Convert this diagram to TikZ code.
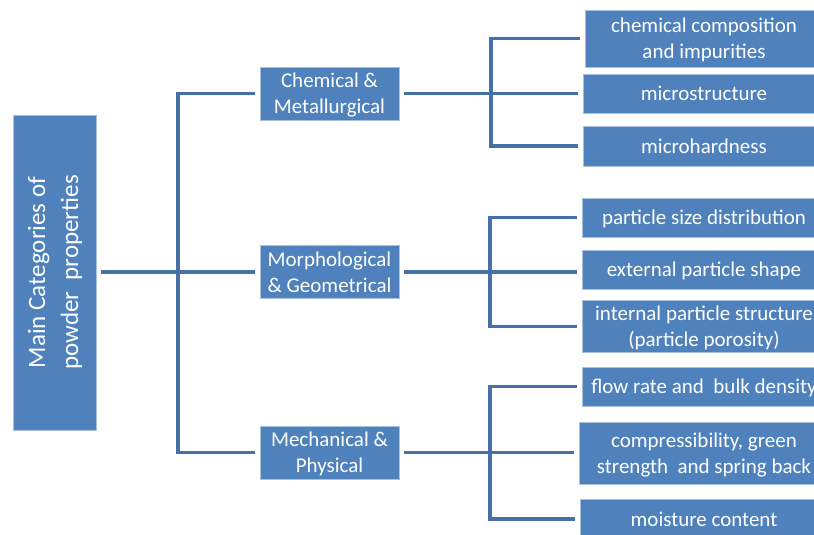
\documentclass[tikz,border=0pt]{standalone}
\usepackage{fontspec}
\setmainfont{Carlito}
\definecolor{boxfill}{HTML}{4F81BD}
\definecolor{boxedge}{HTML}{A9C0DF}
\definecolor{linec}{HTML}{4770A6}
% centred lines of box text, set a little below the box centre
\newcommand{\boxtext}[1]{\raisebox{-2pt}[\height][\depth]{\begin{tabular}{@{}c@{}}#1\end{tabular}}}
\begin{document}
\begin{tikzpicture}[x=1pt,y=-1pt,
  box/.style={rectangle, fill=boxfill, draw=boxedge, line width=0.7pt,
    text=white, inner sep=0pt,
    font=\fontsize{21}{26}\selectfont},
  leaf/.style={box},
  conn/.style={draw=linec, line width=3.6pt, shorten <=5pt, shorten >=5pt}]
\useasboundingbox (0,0) rectangle (814,535);

% root category
\node[box, minimum width=83, minimum height=315,
      font=\fontsize{25}{33}\selectfont] (root) at (55,272.5)
  {\rotatebox{90}{\begin{tabular}{@{}c@{}}Main Categories of\\powder\ \ properties\end{tabular}}};

% main categories
\node[box, minimum width=139, minimum height=53] (m1) at (329.5,93.5) {\boxtext{Chemical \&\\Metallurgical}};
\node[box, minimum width=139, minimum height=53] (m2) at (329.5,272) {\boxtext{Morphological\\\& Geometrical}};
\node[box, minimum width=139, minimum height=53] (m3) at (329.5,452.5) {\boxtext{Mechanical \&\\Physical}};

% properties
\node[leaf, minimum width=238, minimum height=57] (l1) at (704,38.5) {\boxtext{chemical composition\\and impurities}};
\node[leaf, minimum width=242, minimum height=39] (l2) at (704,93.5) {\boxtext{microstructure}};
\node[leaf, minimum width=242, minimum height=40] (l3) at (704,146) {\boxtext{microhardness}};
\node[leaf, minimum width=244, minimum height=39] (l4) at (704,217.5) {\boxtext{particle size distribution}};
\node[leaf, minimum width=244, minimum height=39] (l5) at (704,269.5) {\boxtext{external particle shape}};
\node[leaf, minimum width=244, minimum height=51] (l6) at (704,326.5) {\boxtext{internal particle structure\\(particle porosity)}};
\node[leaf, minimum width=244, minimum height=39] (l7) at (704,386.5) {\boxtext{flow rate and\ \ bulk density}};
\node[leaf, minimum width=250, minimum height=62] (l8) at (704,453) {\boxtext{compressibility, green\\strength\ \ and spring back}};
\node[leaf, minimum width=248, minimum height=40] (l9) at (704,519) {\boxtext{moisture content}};

% bus lines
\coordinate (trunk) at (178,0);
\coordinate (g1) at (491,0);
\coordinate (g2) at (490,0);
\coordinate (g3) at (490,0);

% root to main categories
\draw[conn, shorten <=4pt] (root.east |- m2.west) -- (m2.west);
\draw[conn] (m1.west) -| (trunk |- m3.west) -- (m3.west);

% main categories to properties
\draw[conn] (m1.east) -- (m1.east -| l2.west);
\draw[conn] (l1.west) -| (g1 |- l3.west) -- (l3.west);
\draw[conn] (m2.east) -- (m2.east -| l5.west);
\draw[conn] (l4.west) -| (g2 |- l6.west) -- (l6.west);
\draw[conn] (m3.east) -- (m3.east -| l8.west);
\draw[conn] (l7.west) -| (g3 |- l9.west) -- (l9.west);
\end{tikzpicture}
\end{document}
